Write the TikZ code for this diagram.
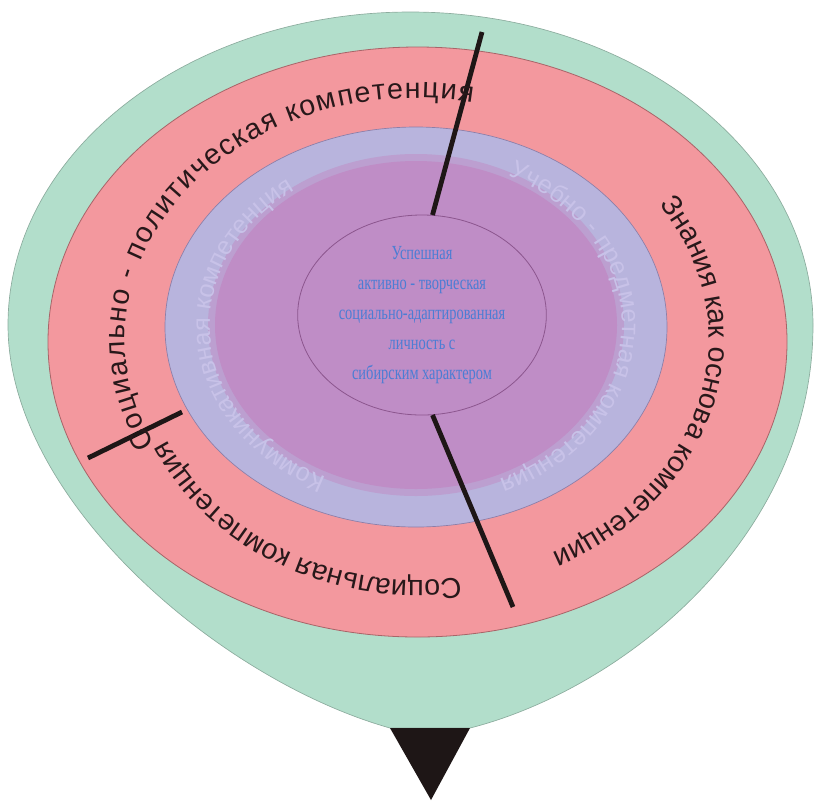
\documentclass[tikz,border=0pt]{standalone}
\usepackage{fontspec}
\newfontfamily\ringfont{Liberation Sans}
\newfontfamily\corefont[FakeStretch = 0.72]{Liberation Serif}
\usetikzlibrary{shapes.geometric, decorations.text}

\definecolor{shellgreen}{RGB}{178, 222, 203}
\definecolor{shelledge}{RGB}{140, 172, 158}
\definecolor{ringred}{RGB}{243, 152, 158}
\definecolor{ringedge}{RGB}{168, 100, 104}
\definecolor{lavender}{RGB}{184, 180, 221}
\definecolor{lavedge}{RGB}{140, 126, 168}
\definecolor{lavtext}{RGB}{200, 194, 232}
\definecolor{purplecore}{RGB}{191, 141, 198}
\definecolor{coreedge}{RGB}{140, 86, 142}
\definecolor{coreblue}{RGB}{76, 125, 212}
\definecolor{ringink}{RGB}{40, 24, 26}
\definecolor{tipblack}{RGB}{30, 22, 22}

\begin{document}
\begin{tikzpicture}[x = 0.75pt, y = 0.75pt,
  divider/.style = {line width = 3.6pt, draw = tipblack},
  ringtext/.style = {decorate, decoration = {text along path, text align = center, text color = ringink,
    text = {|\ringfont\fontsize{21.5}{21.5}\selectfont|#1}}},
  faintext/.style = {decorate, decoration = {text along path, text align = center, text color = lavtext,
    text = {|\ringfont\fontsize{19}{19}\selectfont|#1}}}]
\useasboundingbox (0, 0) rectangle (816, -801);
%\draw[very thin, color = gray](0, 0) grid [step = 100] (816, -801);
% outer drop and tip
\draw [line width = 0.5pt, draw = shelledge, fill = shellgreen] (390, -728) .. controls (220, -680) and (8, -500) .. (8, -325)
  arc [start angle = 180, end angle = 0, x radius = 402.5, y radius = 313] .. controls (813, -540) and (620, -690) .. (470, -728) -- cycle;
\fill [tipblack] (390, -728) -- (470, -728) -- (431, -800) -- cycle;
% rings
\draw [line width = 0.6pt, draw = ringedge, fill = ringred] (417.5, -342) ellipse [x radius = 369.5, y radius = 295];
\draw [line width = 0.5pt, draw = lavedge, fill = lavender] (416, -327) ellipse [x radius = 251, y radius = 200];
\fill [purplecore!55!lavender] (416, -325) ellipse [x radius = 208, y radius = 171];
\fill [purplecore] (416, -325) ellipse [x radius = 201, y radius = 164];
\node (core) [ellipse, draw = coreedge, line width = 0.6pt, minimum width = 186.5pt, minimum height = 150pt, inner sep = 0pt] at (422, -315) {};
\node (motto) [text = coreblue, align = center, font = \corefont\fontsize{15}{22.5}\selectfont] at (core.center)
  {Успешная\\ активно - творческая\\ социально-адаптированная\\ личность с\\ сибирским характером};
% cuts
\coordinate (topcut) at (482, -32);
\coordinate (bottomcut) at (513, -607);
\coordinate (leftouter) at (88, -458);
\coordinate (leftinner) at (182, -412);
\draw [divider] (topcut) -- (core.84);
\draw [divider] (core.-84) -- (bottomcut);
\draw [divider] (leftouter) -- (leftinner);
% texts on the red ring
\path [shift = {(417, -339)}, ringtext = {Социально - политическая компетенция}, decoration = {text align = fit to path}] (206:292 and 241)
  arc [start angle = 206, end angle = 79, x radius = 292, y radius = 241];
\path [shift = {(417, -339)}, ringtext = {Знания как основа компетенции}] (42:292 and 241)
  arc [start angle = 42, end angle = -70, x radius = 292, y radius = 241];
\path [shift = {(417, -339)}, ringtext = {Социальная компетенция}] (-74:275 and 241)
  arc [start angle = -74, end angle = -163, x radius = 275, y radius = 241];
% texts on the lavender ring
\path [shift = {(416, -326)}, faintext = {Учебно - предметная компетенция}] (70:206 and 168)
  arc [start angle = 70, end angle = -73, x radius = 206, y radius = 168];
\path [shift = {(416, -326)}, faintext = {Коммуникативная компетенция}] (252:206 and 168)
  arc [start angle = 252, end angle = 118, x radius = 206, y radius = 168];
\end{tikzpicture}
\end{document}
